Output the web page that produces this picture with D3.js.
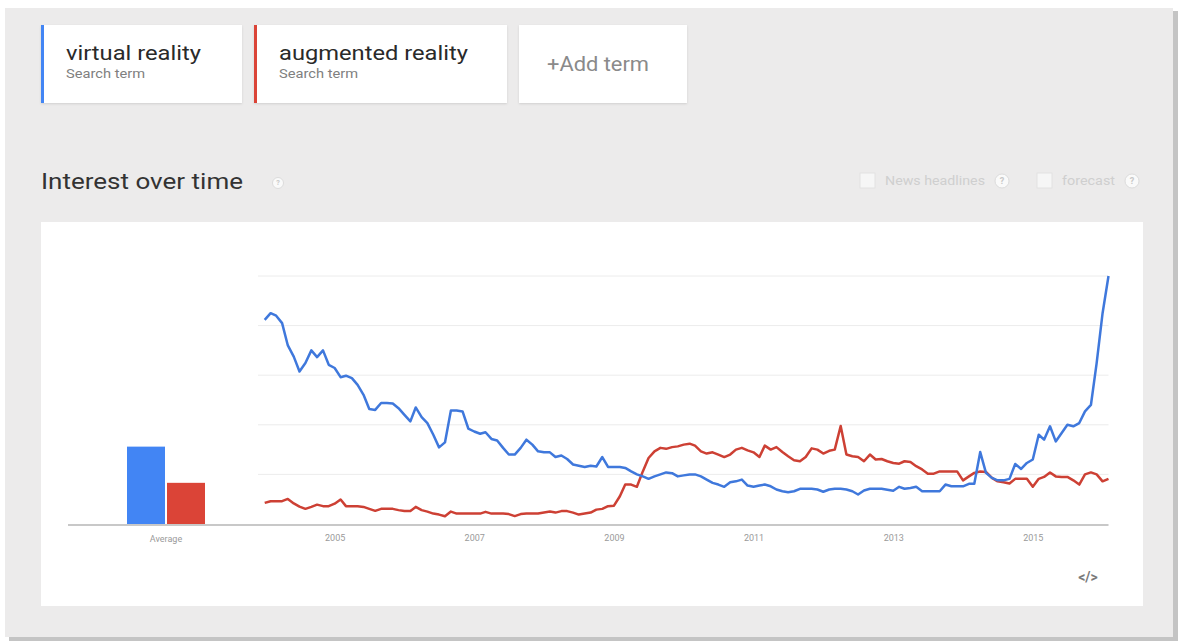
<!DOCTYPE html>
<html>
<head>
<meta charset="utf-8">
<script src="https://cdn.jsdelivr.net/npm/d3@7"></script>
<style>
  body { margin: 0; background: #fff; font-family: Roboto, "Noto Sans", sans-serif; }
</style>
</head>
<body>
<div id="wrapper"></div>
<script>
// ---- data ----
const terms = ["virtual reality", "augmented reality"];
const termColors = ["#4285f4", "#db4437"];
const lineColors = ["#3f78dc", "#cd4034"];
const averages = [31.2, 16.6];
const startMonth = "2004-01";

const virtualReality = [
  82.3, 85, 84, 81, 72, 67.5, 61.5, 64.9, 70, 67.3,
  70, 64.2, 62.9, 59.2, 59.8, 58.8, 56.1, 52.1, 46.4, 46,
  48.8, 48.8, 48.6, 46.7, 44, 41.4, 47, 43.1, 40.7, 36,
  30.9, 32.9, 45.8, 45.8, 45.4, 38.5, 37.3, 36.4, 37, 34.3,
  33.7, 30.7, 28, 28, 30.7, 34, 32, 29.3, 28.9, 28.9,
  27, 27.6, 26.2, 24, 23.5, 23, 23.5, 23.2, 27, 23,
  23, 23, 22.6, 21.2, 20, 19.2, 18.2, 19.2, 20, 20.8,
  20.5, 19.2, 19.6, 20, 20, 19.2, 17.9, 16.6, 15.9, 15,
  16.8, 17.2, 17.9, 15.5, 15, 15.5, 15.9, 15.2, 13.9, 13.2,
  12.8, 13.2, 14.2, 14.2, 14.2, 13.9, 13, 13.9, 14.2, 14.2,
  13.9, 13.2, 11.9, 13.5, 14.2, 14.2, 14.2, 13.8, 13.4, 15,
  14.2, 14.5, 15, 13.2, 13.2, 13.2, 13.2, 15.9, 15.2, 15.2,
  15.2, 16.2, 16.2, 29, 20.6, 18.6, 17.6, 17.6, 18.2, 24.2,
  22.2, 24.6, 26, 36, 34, 39.4, 33.3, 36.7, 40, 39.4,
  40.7, 45.4, 48, 64.9, 85, 100
];

const augmentedReality = [
  8.5, 9.2, 9.2, 9.2, 10.1, 8.3, 7.0, 6.1, 6.9, 7.8,
  7.2, 7.2, 8.2, 9.9, 7.2, 7.2, 7.2, 6.9, 6.1, 5.3,
  6.1, 6.1, 6.1, 5.6, 5.2, 5.2, 6.9, 5.6, 5.0, 4.2,
  3.8, 3.1, 5.0, 4.2, 4.2, 4.2, 4.2, 4.2, 4.9, 4.2,
  4.2, 4.2, 4.0, 3.2, 4.0, 4.2, 4.2, 4.2, 4.6, 5.0,
  4.6, 5.2, 5.2, 4.6, 3.8, 4.2, 4.6, 5.8, 6.1, 7.2,
  7.4, 11.2, 15.9, 15.9, 15, 21.2, 26.6, 29.3, 30.7, 30.3,
  31, 31.3, 32, 32.4, 31.6, 29.3, 28.4, 28.9, 28, 27,
  28, 30, 30.7, 29.7, 28.9, 27, 31.6, 30, 31, 29,
  27.3, 25.7, 25.3, 27, 30.5, 30, 28.4, 29.5, 30, 39.5,
  28, 27.3, 27, 25.3, 28, 26, 26.2, 25.3, 24.6, 24.3,
  25.3, 25, 23.3, 22, 20.3, 20.3, 21.2, 21.2, 21.2, 21.2,
  17.6, 19.2, 20.6, 21.2, 21, 18.6, 17.2, 16.8, 16.3, 18.2,
  18.2, 18.2, 15, 18.2, 19, 20.8, 19.2, 19, 19, 17.6,
  15.9, 20, 20.8, 20, 17.2, 18.2
];

const yearTicks = ["2005", "2007", "2009", "2011", "2013", "2015"];
const gridValues = [0, 20, 40, 60, 80, 100];

// ---- layout ----
const width = 1182, height = 642;
const parseMonth = d3.timeParse("%Y-%m");
const parseYear = d3.timeParse("%Y");
const start = parseMonth(startMonth);

function monthOf(i) {
  return d3.timeMonth.offset(start, i);
}

const series = [virtualReality, augmentedReality];

const xScale = d3.scaleTime()
  .domain([start, monthOf(virtualReality.length - 1)])
  .range([264.7, 1108.5]);

const yScale = d3.scaleLinear()
  .domain([0, 100])
  .range([524, 276]);

const avgScale = d3.scaleBand()
  .domain(terms)
  .range([127, 205])
  .paddingInner(0.05);

const svg = d3.select("#wrapper")
  .append("svg")
  .attr("width", width)
  .attr("height", height);

const defs = svg.append("defs");
const shadow = defs.append("filter").attr("id", "card-shadow")
  .attr("x", "-5%").attr("y", "-10%").attr("width", "110%").attr("height", "125%");
shadow.append("feDropShadow")
  .attr("dx", 0).attr("dy", 1).attr("stdDeviation", 1)
  .attr("flood-color", "#000").attr("flood-opacity", 0.12);

// outer grey panel with its shadow
svg.append("rect")
  .attr("x", 9).attr("y", 11).attr("width", 1169).attr("height", 630)
  .attr("fill", "#c4c4c4");
svg.append("rect")
  .attr("x", 5).attr("y", 8).attr("width", 1168).attr("height", 629)
  .attr("fill", "#ecebeb");

// term cards
const cards = [
  { x: 41, w: 201, label: terms[0], color: termColors[0], textW: 135 },
  { x: 254, w: 253, label: terms[1], color: termColors[1], textW: 189 }
];

const cardG = svg.selectAll(".card")
  .data(cards)
  .join("g")
  .attr("class", "card");

cardG.append("rect")
  .attr("x", d => d.x).attr("y", 25)
  .attr("width", d => d.w).attr("height", 78)
  .attr("fill", "#fff")
  .attr("filter", "url(#card-shadow)");

cardG.append("rect")
  .attr("x", d => d.x).attr("y", 25)
  .attr("width", 3).attr("height", 78)
  .attr("fill", d => d.color);

cardG.append("text")
  .attr("x", d => d.x + 25).attr("y", 60)
  .attr("font-size", 21)
  .attr("fill", "#2a2a2a")
  .attr("textLength", d => d.textW)
  .attr("lengthAdjust", "spacingAndGlyphs")
  .text(d => d.label);

cardG.append("text")
  .attr("x", d => d.x + 25).attr("y", 78)
  .attr("font-size", 12)
  .attr("fill", "#808080")
  .attr("textLength", 79)
  .attr("lengthAdjust", "spacingAndGlyphs")
  .text("Search term");

// add term card
svg.append("rect")
  .attr("x", 519).attr("y", 25).attr("width", 168).attr("height", 78)
  .attr("fill", "#fff")
  .attr("filter", "url(#card-shadow)");
svg.append("text")
  .attr("x", 547).attr("y", 71)
  .attr("font-size", 20)
  .attr("fill", "#8a8a8a")
  .attr("textLength", 102)
  .attr("lengthAdjust", "spacingAndGlyphs")
  .text("+Add term");

// heading
svg.append("text")
  .attr("x", 41).attr("y", 189)
  .attr("font-size", 22)
  .attr("fill", "#333")
  .attr("textLength", 202)
  .attr("lengthAdjust", "spacingAndGlyphs")
  .text("Interest over time");

function helpIcon(cx, cy, r) {
  const g = svg.append("g");
  g.append("circle")
    .attr("cx", cx).attr("cy", cy).attr("r", r)
    .attr("fill", "#fafafa").attr("stroke", "#dcdcdc");
  g.append("text")
    .attr("x", cx).attr("y", cy + r * 0.45)
    .attr("text-anchor", "middle")
    .attr("font-size", r * 1.3)
    .attr("font-weight", "bold")
    .attr("fill", "#c8c8c8")
    .text("?");
}

helpIcon(278, 183, 5.5);

// options on the right
const options = [
  { x: 860, label: "News headlines", textW: 100, help: 1002 },
  { x: 1037, label: "forecast", textW: 53, help: 1132 }
];
options.forEach(o => {
  svg.append("rect")
    .attr("x", o.x).attr("y", 173).attr("width", 15).attr("height", 15)
    .attr("fill", "#f6f6f6").attr("stroke", "#e2e2e2");
  svg.append("text")
    .attr("x", o.x + 25).attr("y", 185)
    .attr("font-size", 12.5)
    .attr("fill", "#cfcfcf")
    .attr("textLength", o.textW)
    .attr("lengthAdjust", "spacingAndGlyphs")
    .text(o.label);
  helpIcon(o.help, 181, 7);
});

// chart panel
svg.append("rect")
  .attr("x", 41).attr("y", 222).attr("width", 1102).attr("height", 384)
  .attr("fill", "#fff");

// grid lines
svg.append("g")
  .selectAll("line")
  .data(gridValues.slice(1))
  .join("line")
  .attr("x1", 258).attr("x2", xScale.range()[1])
  .attr("y1", d => yScale(d)).attr("y2", d => yScale(d))
  .attr("stroke", "#ececec")
  .attr("stroke-width", 1);

// average bars
svg.append("g")
  .selectAll("rect")
  .data(averages)
  .join("rect")
  .attr("x", (d, i) => avgScale(terms[i]))
  .attr("width", avgScale.bandwidth())
  .attr("y", d => yScale(d))
  .attr("height", d => yScale(0) - yScale(d))
  .attr("fill", (d, i) => termColors[i]);

// baseline
svg.append("line")
  .attr("x1", 68).attr("x2", xScale.range()[1])
  .attr("y1", yScale(0) + 1).attr("y2", yScale(0) + 1)
  .attr("stroke", "#c8c8c8")
  .attr("stroke-width", 2);

// lines
const line = d3.line()
  .x((d, i) => xScale(monthOf(i)))
  .y(d => yScale(d));

svg.append("g")
  .selectAll("path")
  .data(series.slice().reverse())
  .join("path")
  .attr("d", line)
  .attr("fill", "none")
  .attr("stroke", (d, i) => lineColors[series.length - 1 - i])
  .attr("stroke-width", 2.5)
  .attr("stroke-linejoin", "round");

// x axis
const xAxis = d3.axisBottom(xScale)
  .tickValues(yearTicks.map(parseYear))
  .tickFormat(d3.timeFormat("%Y"))
  .tickSize(0)
  .tickPadding(11);

const axisG = svg.append("g")
  .attr("transform", `translate(0,${yScale(0)})`)
  .call(xAxis);
axisG.select(".domain").remove();
axisG.selectAll("text")
  .attr("font-family", "Roboto, sans-serif")
  .attr("font-size", 9)
  .attr("fill", "#9a9a9a");

svg.append("text")
  .attr("x", avgScale.range()[0] + (avgScale.range()[1] - avgScale.range()[0]) / 2)
  .attr("y", yScale(0) + 18)
  .attr("text-anchor", "middle")
  .attr("font-size", 9)
  .attr("fill", "#9a9a9a")
  .text("Average");

// embed icon
svg.append("text")
  .attr("x", 1088).attr("y", 582)
  .attr("text-anchor", "middle")
  .attr("font-size", 14)
  .attr("font-weight", "bold")
  .attr("fill", "#7a7a7a")
  .text("</>");
</script>
</body>
</html>
